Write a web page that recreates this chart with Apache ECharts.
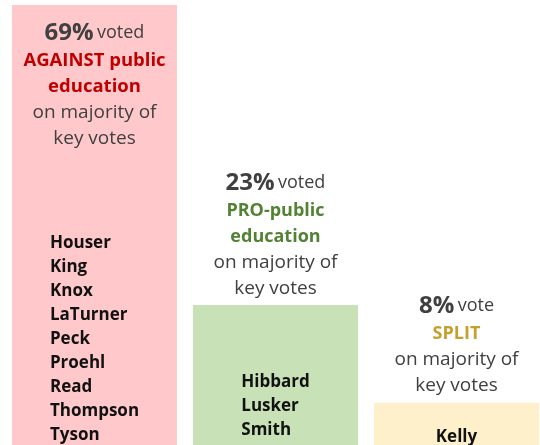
<!DOCTYPE html>
<html><head><meta charset="utf-8">
<script src="https://cdn.jsdelivr.net/npm/echarts@6/dist/echarts.min.js"></script>
<style>html,body{margin:0;padding:0;background:#fff}#c{width:540px;height:445px}</style>
</head><body><div id="c"></div>
<script>
const categories = ['AGAINST', 'PRO', 'SPLIT'];
const percents = [69, 23, 8];
const verbs = ['voted', 'voted', 'vote'];
const stances = [['AGAINST public', 'education'], ['PRO-public', 'education'], ['SPLIT']];
const names = [
  ['Houser', 'King', 'Knox', 'LaTurner', 'Peck', 'Proehl', 'Read', 'Thompson', 'Tyson'],
  ['Hibbard', 'Lusker', 'Smith'],
  ['Kelly']
];
const barColors = ['#FFC9CB', '#C8E1B6', '#FFF0CC'];
const stanceStyles = ['sr', 'sg', 'sy'];
const headerPos = [
  { position: 'insideTop', distance: 13 },
  { position: 'top', distance: 3 },
  { position: 'top', distance: 4 }
];
const nameDist = [226, 65, 22];

const F = '"Open Sans", sans-serif';
const rich = {
  pct: { fontFamily: F, fontSize: 24, fontWeight: 'bold', color: '#404040', lineHeight: 30 },
  verb: { fontFamily: F, fontSize: 18, color: '#404040', lineHeight: 30 },
  sr: { fontFamily: F, fontSize: 18.5, fontWeight: 'bold', color: '#C00000', lineHeight: 26 },
  sg: { fontFamily: F, fontSize: 18, fontWeight: 'bold', color: '#548235', lineHeight: 26 },
  sy: { fontFamily: F, fontSize: 18, fontWeight: 'bold', color: '#C4A02C', lineHeight: 26 },
  plain: { fontFamily: F, fontSize: 19, color: '#404040', lineHeight: 26 }
};
const nameRich = {
  n: { fontFamily: F, fontSize: 17, fontWeight: 'bold', color: '#111', lineHeight: 24, align: 'left' }
};

const headerData = percents.map((v, i) => ({
  value: v,
  itemStyle: { color: barColors[i] },
  label: {
    show: true,
    position: headerPos[i].position,
    distance: headerPos[i].distance,
    formatter: '{pct|' + v + '%} {verb|' + verbs[i] + '}\n' +
      stances[i].map(s => '{' + stanceStyles[i] + '|' + s + '}').join('\n') +
      '\n{plain|on majority of}\n{plain|key votes}',
    rich: rich,
    align: 'center'
  }
}));
const nameData = percents.map((v, i) => ({
  value: v,
  label: {
    show: true,
    position: 'insideTop',
    distance: nameDist[i],
    formatter: names[i].map(n => '{n|' + n + '}').join('\n'),
    rich: nameRich
  }
}));

const chart = echarts.init(document.getElementById('c'));
chart.setOption({
  animation: false,
  backgroundColor: '#fff',
  grid: { left: 4, width: 543, top: 5, height: 450, outerBoundsMode: 'none', containLabel: false },
  xAxis: { type: 'category', data: categories, show: false },
  yAxis: { type: 'value', min: 0, max: 69, show: false },
  series: [
    { type: 'bar', data: headerData, barWidth: 165, barGap: '-100%' },
    { type: 'bar', data: nameData, barWidth: 165, barGap: '-100%', itemStyle: { color: 'rgba(0,0,0,0)' }, silent: true }
  ]
});
</script></body></html>
